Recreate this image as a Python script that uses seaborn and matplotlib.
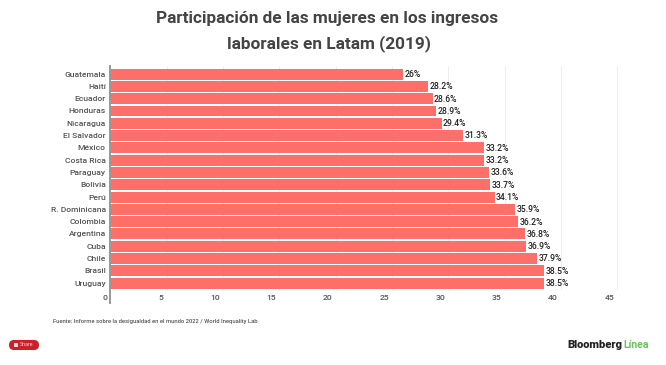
import matplotlib
matplotlib.use('Agg')
import matplotlib.pyplot as plt
from matplotlib.patches import FancyBboxPatch, Rectangle
import pandas as pd
import seaborn as sns

paises = ['Guatemala', 'Haití', 'Ecuador', 'Honduras', 'Nicaragua', 'El Salvador',
          'México', 'Costa Rica', 'Paraguay', 'Bolivia', 'Perú', 'R. Dominicana',
          'Colombia', 'Argentina', 'Cuba', 'Chile', 'Brasil', 'Uruguay']
valores = [26, 28.2, 28.6, 28.9, 29.4, 31.3, 33.2, 33.2, 33.6, 33.7, 34.1, 35.9,
           36.2, 36.8, 36.9, 37.9, 38.5, 38.5]
etiquetas = ['26%', '28.2%', '28.6%', '28.9%', '29.4%', '31.3%', '33.2%', '33.2%',
             '33.6%', '33.7%', '34.1%', '35.9%', '36.2%', '36.8%', '36.9%', '37.9%',
             '38.5%', '38.5%']
ticks_x = [0, 5, 10, 15, 20, 25, 30, 35, 40, 45]

sns.set_theme(style='white')
plt.rcParams['font.family'] = ['Roboto', 'DejaVu Sans']

W, H = 666, 365
df = pd.DataFrame({'pais': paises, 'valor': valores})

fig = plt.figure(figsize=(W / 100, H / 100), dpi=100)
ax = fig.add_axes([110.3 / W, 1 - 303 / H, (620 - 110.3) / W, (303 - 66) / H])

sns.barplot(data=df, x='valor', y='pais', color='#fd6f68', saturation=1, width=0.89,
            edgecolor='none', linewidth=0, ax=ax, zorder=2)

ax.set_xlim(0, 509.7 / 11.27)
ax.set_ylim(18.62, -0.66)
ax.set_xlabel('')
ax.set_ylabel('')

# rejilla clara, termina con las barras
ax.set_xticks(ticks_x)
ax.set_xticklabels([])
ax.vlines(ticks_x[1:], -0.66, 17.6, color='#eeeeee', lw=0.8, zorder=1)
for t in ticks_x:
    ax.annotate(str(t), xy=(t, 0), xycoords=('data', 'axes fraction'), xytext=(-3, 5),
                textcoords='offset pixels', ha='right', va='center', fontsize=6.1,
                fontweight='medium', color='#555555', annotation_clip=False)

sns.despine(ax=ax, top=True, right=True, bottom=True, left=False)
ax.spines['left'].set_color('#999999')
ax.spines['left'].set_linewidth(1.4)
ax.tick_params(axis='both', length=0)
ax.tick_params(axis='y', pad=3.2, labelsize=6.1, labelcolor='#555555')
for lab in ax.get_yticklabels():
    lab.set_fontweight('medium')

for i, (v, et) in enumerate(zip(valores, etiquetas)):
    ax.annotate(et, (v, i), xytext=(1, -0.3), textcoords='offset points', ha='left',
                va='center', fontsize=6.2, fontweight='medium', color='#222222', zorder=3)

fig.text(327 / W, 1 - 19 / H, 'Participación de las mujeres en los ingresos',
         ha='center', va='center', fontsize=12.4, fontweight='bold', color='#444444')
fig.text(329 / W, 1 - 44 / H, 'laborales en Latam (2019)',
         ha='center', va='center', fontsize=12.4, fontweight='bold', color='#444444')

fig.text(53 / W, 1 - 321 / H, 'Fuente: Informe sobre la desigualdad en el mundo 2022 / World Inequality Lab',
         ha='left', va='center', fontsize=4.2, fontweight='medium', color='#555555')

# boton share y logo, en pixeles
fig.add_artist(FancyBboxPatch((14, H - 345), 20, 0.01, boxstyle='round,pad=5,rounding_size=5',
                              transform=None, fc='#cb2027', ec='none'))
fig.add_artist(Rectangle((14, H - 347), 3.5, 4, transform=None, fc='#f6d5d6', ec='none'))
fig.text(19.5 / W, 1 - 345 / H, 'Share', ha='left', va='center', fontsize=3.8, color='#f6d5d6')
fig.text(567 / W, 1 - 345 / H, 'Bloomberg', ha='left', va='center', fontsize=8,
         fontweight='black', color='#222222')
fig.text(623 / W, 1 - 345 / H, 'Línea', ha='left', va='center', fontsize=7.6,
         fontweight='bold', color='#6cc25f')

fig.savefig('out.png', dpi=100)
